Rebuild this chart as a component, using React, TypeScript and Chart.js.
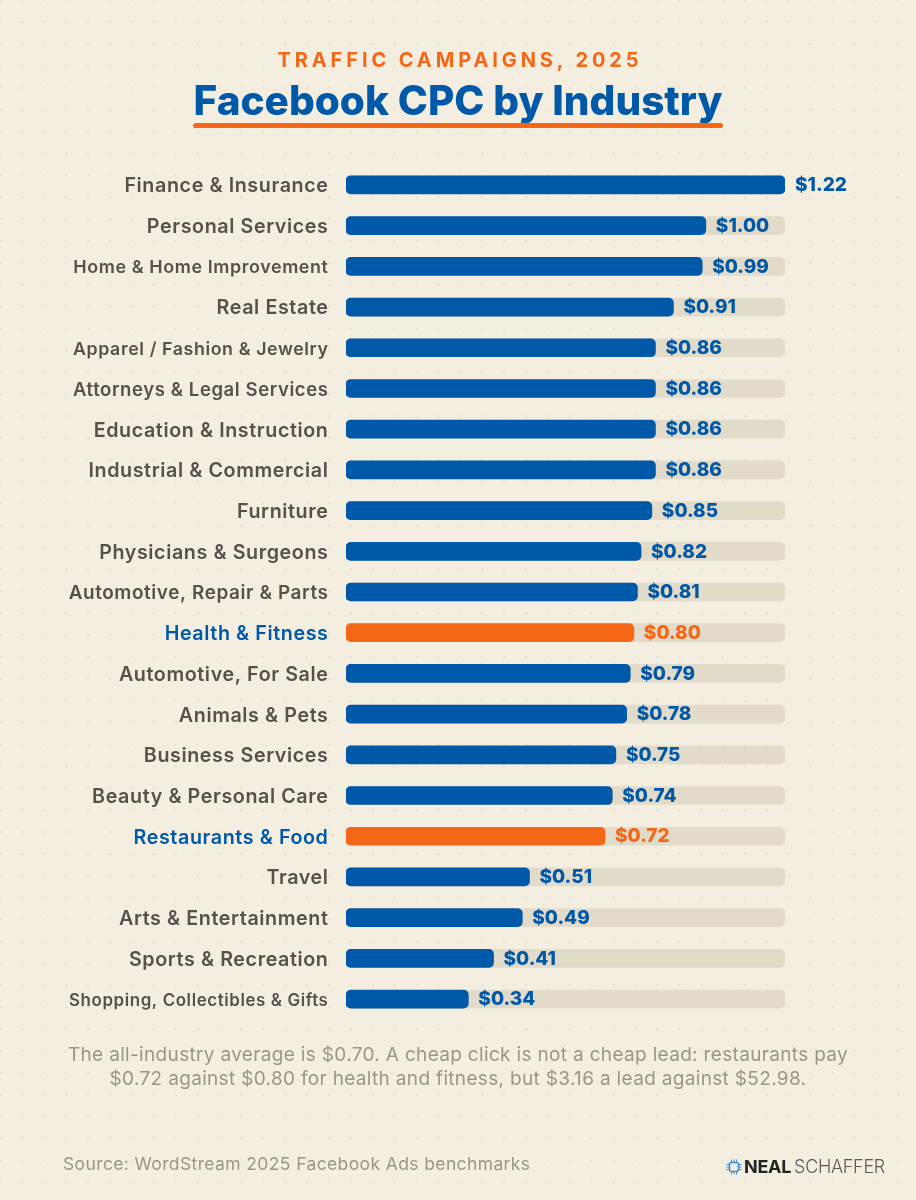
import React, { useEffect, useRef } from 'react';
import { Chart, registerables } from 'chart.js';

Chart.register(...registerables);

const categories = [
  'Finance & Insurance',
  'Personal Services',
  'Home & Home Improvement',
  'Real Estate',
  'Apparel / Fashion & Jewelry',
  'Attorneys & Legal Services',
  'Education & Instruction',
  'Industrial & Commercial',
  'Furniture',
  'Physicians & Surgeons',
  'Automotive, Repair & Parts',
  'Health & Fitness',
  'Automotive, For Sale',
  'Animals & Pets',
  'Business Services',
  'Beauty & Personal Care',
  'Restaurants & Food',
  'Travel',
  'Arts & Entertainment',
  'Sports & Recreation',
  'Shopping, Collectibles & Gifts',
];
const cpcValues = [1.22, 1.0, 0.99, 0.91, 0.86, 0.86, 0.86, 0.86, 0.85, 0.82, 0.81, 0.8, 0.79, 0.78, 0.75, 0.74, 0.72, 0.51, 0.49, 0.41, 0.34];
const trackValue = 1.22;
const highlighted = ['Health & Fitness', 'Restaurants & Food'];

const BLUE = '#0058a8';
const ORANGE = '#f46717';
const TRACK = '#e2dbc9';
const PAPER = '#f4eee1';
const FONT = 'Inter, sans-serif';

// the long labels are set smaller so they fit the column
const longLabelSizes: Record<string, number> = {
  'Home & Home Improvement': 17.9,
  'Apparel / Fashion & Jewelry': 17.8,
  'Attorneys & Legal Services': 18.5,
  'Automotive, Repair & Parts': 18.9,
  'Shopping, Collectibles & Gifts': 16.9,
};

const isHot = (i: number) => highlighted.includes(categories[i]);

// Inter is narrower than the original face, so open the tick labels up a little
const tickSpacing = {
  id: 'tickSpacing',
  beforeDraw(chart: Chart) {
    (chart.ctx as any).letterSpacing = '0.6px';
  },
};

// values at the end of each bar
const valueLabels = {
  id: 'valueLabels',
  afterDatasetsDraw(chart: Chart) {
    const { ctx } = chart;
    const x = chart.scales.x;
    const y = chart.scales.y;
    ctx.save();
    (ctx as any).letterSpacing = '0px';
    ctx.font = `800 19px ${FONT}`;
    ctx.textAlign = 'left';
    ctx.textBaseline = 'middle';
    cpcValues.forEach((v, i) => {
      ctx.fillStyle = isHot(i) ? ORANGE : BLUE;
      ctx.fillText(`$${v.toFixed(2)}`, x.getPixelForValue(v) + 10, y.getPixelForValue(i) + 0.5);
    });
    ctx.restore();
  },
};

function CpcChart() {
  const chartRef = useRef<HTMLCanvasElement>(null);

  useEffect(() => {
    if (!chartRef.current) return;

    const chart = new Chart(chartRef.current, {
      type: 'bar',
      data: {
        labels: categories,
        datasets: [
          {
            data: cpcValues,
            backgroundColor: categories.map((_, i) => (isHot(i) ? ORANGE : BLUE)),
            order: 1,
          },
          {
            data: categories.map(() => trackValue),
            backgroundColor: TRACK,
            order: 2,
          },
        ],
      },
      options: {
        indexAxis: 'y',
        responsive: false,
        animation: false,
        layout: { padding: { top: 164.6, bottom: 180.6, left: 0, right: 131 } },
        datasets: { bar: { grouped: false, barThickness: 18, borderRadius: 5, borderSkipped: false } },
        plugins: { legend: { display: false }, tooltip: { enabled: false } },
        scales: {
          x: { display: false, min: 0, max: trackValue },
          y: {
            afterFit: (axis: any) => {
              axis.width = 346;
            },
            grid: { display: false },
            border: { display: false },
            ticks: {
              autoSkip: false,
              padding: 9.5,
              labelOffset: 1.5,
              color: (c: any) => (isHot(c.index) ? BLUE : '#56514a'),
              font: (c: any) => ({
                family: FONT,
                weight: 600,
                size: longLabelSizes[categories[c.index]] ?? 19.7,
              }),
            },
          },
        },
      },
      plugins: [tickSpacing, valueLabels],
    } as any);

    return () => {
      chart.destroy();
    };
  }, []);

  return <canvas ref={chartRef} width={916} height={1200} style={{ position: 'absolute', left: 0, top: 0 }} />;
}

export default function App() {
  return (
    <div
      style={{
        position: 'relative',
        width: 916,
        height: 1200,
        overflow: 'hidden',
        fontFamily: FONT,
        backgroundColor: PAPER,
        backgroundImage: 'radial-gradient(circle, #e8e1d2 0.8px, transparent 1.3px)',
        backgroundSize: '21.9px 21.9px',
        backgroundPosition: '11.55px 11.15px',
      }}
    >
      <style>{'body{margin:0}'}</style>
      <CpcChart />
      <div style={{ position: 'absolute', top: 47, left: 2, width: 916, textAlign: 'center', color: ORANGE, fontSize: 20, lineHeight: '26px', fontWeight: 700, letterSpacing: 3.9 }}>
        TRAFFIC CAMPAIGNS, 2025
      </div>
      <div style={{ position: 'absolute', top: 76, left: 0, width: 916, textAlign: 'center', color: BLUE, fontSize: 40.5, lineHeight: '50px', fontWeight: 800 }}>
        Facebook CPC by Industry
      </div>
      <div style={{ position: 'absolute', left: 193, top: 123, width: 530, height: 5, borderRadius: 3, background: ORANGE }} />
      <div style={{ position: 'absolute', top: 1043, left: 0, width: 916, textAlign: 'center', color: '#9c9587', fontSize: 19, lineHeight: '24px', letterSpacing: 0.33 }}>
        The all-industry average is $0.70. A cheap click is not a cheap lead: restaurants pay
        <br />
        $0.72 against $0.80 for health and fitness, but $3.16 a lead against $52.98.
      </div>
      <div style={{ position: 'absolute', left: 63, top: 1153, color: '#9c9587', fontSize: 17.5, lineHeight: '22px', letterSpacing: 0.38 }}>
        Source: WordStream 2025 Facebook Ads benchmarks
      </div>
      <svg width="16" height="16" viewBox="0 0 16 16" style={{ position: 'absolute', left: 726, top: 1159 }}>
        <rect x="3.5" y="3.5" width="9" height="9" rx="2" fill="none" stroke="#3f8fd6" strokeWidth="1.6" />
        <path d="M5.5 0.5v3M8 0.5v3M10.5 0.5v3M5.5 12.5v3M8 12.5v3M10.5 12.5v3M0.5 5.5h3M0.5 8h3M0.5 10.5h3M12.5 5.5h3M12.5 8h3M12.5 10.5h3" stroke="#3f8fd6" strokeWidth="1" />
      </svg>
      <div style={{ position: 'absolute', left: 744, top: 1155, fontSize: 18, lineHeight: '24px', whiteSpace: 'nowrap', letterSpacing: -0.3 }}>
        <span style={{ fontWeight: 700, color: '#242424' }}>NEAL</span>
        <span style={{ fontWeight: 300, color: '#5c5a58', marginLeft: 3 }}>SCHAFFER</span>
      </div>
    </div>
  );
}
